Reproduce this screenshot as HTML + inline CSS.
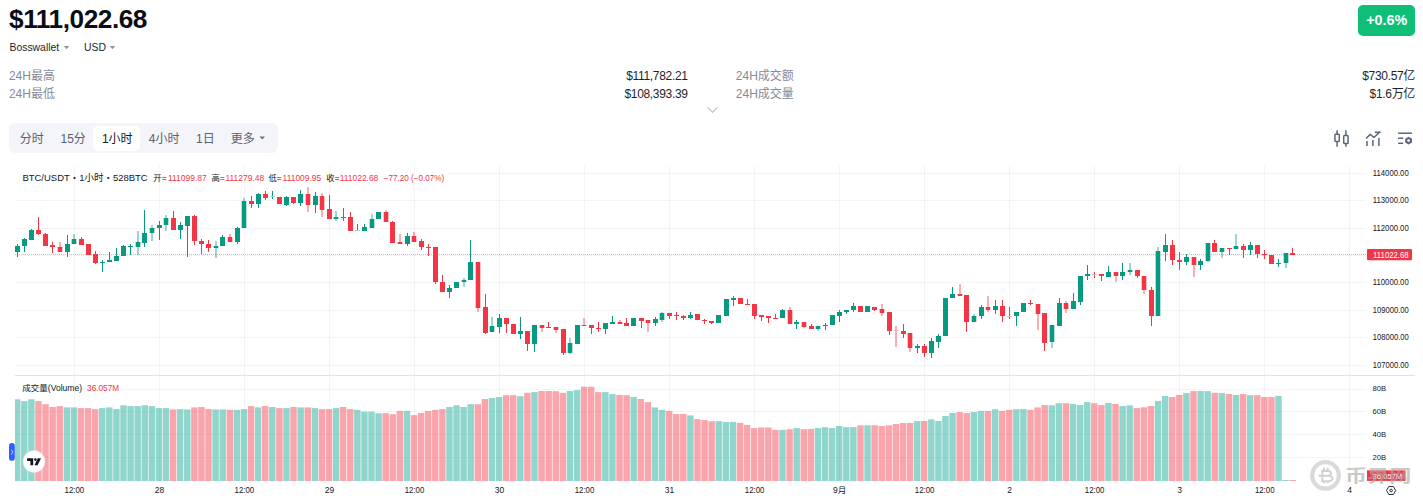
<!DOCTYPE html>
<html><head><meta charset="utf-8"><title>BTC</title>
<style>
html,body{margin:0;padding:0;background:#fff;overflow:hidden;}
body{width:1423px;height:503px;}
svg{display:block;font-family:"Liberation Sans", "Noto Sans CJK SC", sans-serif;}
</style></head><body>
<svg width="1423" height="503" viewBox="0 0 1423 503"><defs><clipPath id="pane"><rect x="15" y="376" width="1351" height="105"/></clipPath></defs>
<text x="9" y="28" font-size="26.2" font-weight="700" fill="#0b0e14" letter-spacing="-0.43">$111,022.68</text>
<text x="9.5" y="50.7" font-size="10.4" fill="#1b1f2a">Bosswallet</text>
<path d="M63.8 46.1 L69.2 46.1 L66.5 49.2 Z" fill="#8f94a3"/>
<text x="84" y="50.7" font-size="10.4" fill="#1b1f2a">USD</text>
<path d="M109.8 46.1 L115.2 46.1 L112.5 49.2 Z" fill="#8f94a3"/>
<rect x="1358" y="5" width="57" height="31" rx="5" fill="#10bf77"/>
<text x="1386.7" y="25.3" font-size="14.3" font-weight="700" fill="#fff" text-anchor="middle">+0.6%</text>
<text x="8.9" y="80" font-size="12" fill="#858a99">24H最高</text>
<text x="8.9" y="98" font-size="12" fill="#858a99">24H最低</text>
<text x="687.6" y="80" font-size="12" fill="#1b1f2a" text-anchor="end" letter-spacing="-0.33">$111,782.21</text>
<text x="687.6" y="98" font-size="12" fill="#1b1f2a" text-anchor="end" letter-spacing="-0.33">$108,393.39</text>
<text x="735.8" y="80" font-size="12" fill="#858a99">24H成交额</text>
<text x="735.8" y="98" font-size="12" fill="#858a99">24H成交量</text>
<text x="1415" y="80" font-size="12" fill="#1b1f2a" text-anchor="end" letter-spacing="-0.33">$730.57亿</text>
<text x="1415" y="98" font-size="12" fill="#1b1f2a" text-anchor="end" letter-spacing="-0.33">$1.6万亿</text>
<path d="M707.6 107.4 L712.5 112.3 L717.4 107.4" fill="none" stroke="#b4b9c7" stroke-width="1.1"/>
<rect x="9" y="123" width="269" height="30" rx="6" fill="#f3f5fa"/>
<rect x="93" y="126" width="47" height="25" rx="5" fill="#ffffff"/>
<text x="19.8" y="142.6" font-size="12" fill="#5b6070">分时</text>
<text x="60.5" y="142.6" font-size="12" fill="#5b6070">15分</text>
<text x="101.9" y="142.6" font-size="12" fill="#141824">1小时</text>
<text x="148.8" y="142.6" font-size="12" fill="#5b6070">4小时</text>
<text x="196" y="142.6" font-size="12" fill="#5b6070">1日</text>
<text x="230.7" y="142.6" font-size="12" fill="#5b6070">更多</text>
<path d="M259.4 136.6 L265 136.6 L262.2 139.6 Z" fill="#6b7080"/>
<g fill="none" stroke="#5b6478" stroke-width="1.5" stroke-linejoin="round"><line x1="1337.1" y1="130.2" x2="1337.1" y2="134.2"/><line x1="1337.1" y1="141.4" x2="1337.1" y2="146.7"/><rect x="1334.9" y="134.2" width="4.4" height="7.2" rx="0.8"/><line x1="1345.9" y1="130.2" x2="1345.9" y2="135.5"/><line x1="1345.9" y1="143.5" x2="1345.9" y2="146.7"/><rect x="1343.7" y="135.5" width="4.4" height="8" rx="0.8"/><polyline points="1366,138.5 1370.3,134.4 1373.9,137.5 1380.1,131.8"/><line x1="1367" y1="141.1" x2="1367" y2="145.9"/><line x1="1372.9" y1="140.1" x2="1372.9" y2="145.9"/><line x1="1378.9" y1="137.9" x2="1378.9" y2="145.9"/><line x1="1398.1" y1="133.2" x2="1411.9" y2="133.2"/><line x1="1398.1" y1="138.2" x2="1403.2" y2="138.2"/><line x1="1398.1" y1="143.3" x2="1403.2" y2="143.3"/></g>
<line x1="1374.8" y1="132.3" x2="1380.4" y2="132.3" stroke="#5b6478" stroke-width="1.6"/>
<polygon points="1408.60,144.50 1405.22,142.55 1405.22,138.65 1408.60,136.70 1411.98,138.65 1411.98,142.55" fill="#5b6478"/><circle cx="1408.6" cy="140.6" r="1.4" fill="#fff"/>
<line x1="74.5" y1="166" x2="74.5" y2="481" stroke="rgba(40,52,52,0.055)" stroke-width="1"/>
<line x1="159.5" y1="166" x2="159.5" y2="481" stroke="rgba(40,52,52,0.055)" stroke-width="1"/>
<line x1="244.5" y1="166" x2="244.5" y2="481" stroke="rgba(40,52,52,0.055)" stroke-width="1"/>
<line x1="329.5" y1="166" x2="329.5" y2="481" stroke="rgba(40,52,52,0.055)" stroke-width="1"/>
<line x1="414.5" y1="166" x2="414.5" y2="481" stroke="rgba(40,52,52,0.055)" stroke-width="1"/>
<line x1="499.5" y1="166" x2="499.5" y2="481" stroke="rgba(40,52,52,0.055)" stroke-width="1"/>
<line x1="584.5" y1="166" x2="584.5" y2="481" stroke="rgba(40,52,52,0.055)" stroke-width="1"/>
<line x1="669.5" y1="166" x2="669.5" y2="481" stroke="rgba(40,52,52,0.055)" stroke-width="1"/>
<line x1="754.5" y1="166" x2="754.5" y2="481" stroke="rgba(40,52,52,0.055)" stroke-width="1"/>
<line x1="839.5" y1="166" x2="839.5" y2="481" stroke="rgba(40,52,52,0.055)" stroke-width="1"/>
<line x1="924.5" y1="166" x2="924.5" y2="481" stroke="rgba(40,52,52,0.055)" stroke-width="1"/>
<line x1="1009.5" y1="166" x2="1009.5" y2="481" stroke="rgba(40,52,52,0.055)" stroke-width="1"/>
<line x1="1094.5" y1="166" x2="1094.5" y2="481" stroke="rgba(40,52,52,0.055)" stroke-width="1"/>
<line x1="1179.5" y1="166" x2="1179.5" y2="481" stroke="rgba(40,52,52,0.055)" stroke-width="1"/>
<line x1="1264.5" y1="166" x2="1264.5" y2="481" stroke="rgba(40,52,52,0.055)" stroke-width="1"/>
<line x1="1349.5" y1="166" x2="1349.5" y2="481" stroke="rgba(40,52,52,0.055)" stroke-width="1"/>
<line x1="15" y1="365.5" x2="1366" y2="365.5" stroke="rgba(40,52,52,0.055)" stroke-width="1"/>
<text x="1372.8" y="368.1" font-size="8.7" fill="#131722" textLength="35.9" lengthAdjust="spacingAndGlyphs">107000.00</text>
<line x1="15" y1="337.5" x2="1366" y2="337.5" stroke="rgba(40,52,52,0.055)" stroke-width="1"/>
<text x="1372.8" y="340.1" font-size="8.7" fill="#131722" textLength="35.9" lengthAdjust="spacingAndGlyphs">108000.00</text>
<line x1="15" y1="310.5" x2="1366" y2="310.5" stroke="rgba(40,52,52,0.055)" stroke-width="1"/>
<text x="1372.8" y="313.1" font-size="8.7" fill="#131722" textLength="35.9" lengthAdjust="spacingAndGlyphs">109000.00</text>
<line x1="15" y1="282.5" x2="1366" y2="282.5" stroke="rgba(40,52,52,0.055)" stroke-width="1"/>
<text x="1372.8" y="285.1" font-size="8.7" fill="#131722" textLength="35.9" lengthAdjust="spacingAndGlyphs">110000.00</text>
<line x1="15" y1="255.5" x2="1366" y2="255.5" stroke="rgba(40,52,52,0.055)" stroke-width="1"/>
<text x="1372.8" y="258.1" font-size="8.7" fill="#131722" textLength="35.9" lengthAdjust="spacingAndGlyphs">111000.00</text>
<line x1="15" y1="228.5" x2="1366" y2="228.5" stroke="rgba(40,52,52,0.055)" stroke-width="1"/>
<text x="1372.8" y="231.1" font-size="8.7" fill="#131722" textLength="35.9" lengthAdjust="spacingAndGlyphs">112000.00</text>
<line x1="15" y1="200.5" x2="1366" y2="200.5" stroke="rgba(40,52,52,0.055)" stroke-width="1"/>
<text x="1372.8" y="203.1" font-size="8.7" fill="#131722" textLength="35.9" lengthAdjust="spacingAndGlyphs">113000.00</text>
<line x1="448" y1="173.5" x2="1366" y2="173.5" stroke="rgba(40,52,52,0.055)" stroke-width="1"/>
<text x="1372.8" y="176.1" font-size="8.7" fill="#131722" textLength="35.9" lengthAdjust="spacingAndGlyphs">114000.00</text>
<line x1="15" y1="375.5" x2="1415" y2="375.5" stroke="#e0e3eb" stroke-width="1"/>
<line x1="15" y1="389.5" x2="1366" y2="389.5" stroke="rgba(40,52,52,0.055)" stroke-width="1"/>
<text x="1372.6" y="390.7" font-size="8.1" fill="#131722" textLength="13.6" lengthAdjust="spacingAndGlyphs">80B</text>
<line x1="15" y1="411.5" x2="1366" y2="411.5" stroke="rgba(40,52,52,0.055)" stroke-width="1"/>
<text x="1372.6" y="413.7" font-size="8.1" fill="#131722" textLength="13.6" lengthAdjust="spacingAndGlyphs">60B</text>
<line x1="15" y1="434.5" x2="1366" y2="434.5" stroke="rgba(40,52,52,0.055)" stroke-width="1"/>
<text x="1372.6" y="436.7" font-size="8.1" fill="#131722" textLength="13.6" lengthAdjust="spacingAndGlyphs">40B</text>
<line x1="15" y1="457.5" x2="1366" y2="457.5" stroke="rgba(40,52,52,0.055)" stroke-width="1"/>
<text x="1372.6" y="459.7" font-size="8.1" fill="#131722" textLength="13.6" lengthAdjust="spacingAndGlyphs">20B</text>
<g clip-path="url(#pane)">
<rect x="13.99" y="399.30" width="6.45" height="81.70" fill="rgba(33,173,153,0.5)"/>
<rect x="21.07" y="401.10" width="6.45" height="79.90" fill="rgba(33,173,153,0.5)"/>
<rect x="28.16" y="399.30" width="6.45" height="81.70" fill="rgba(33,173,153,0.5)"/>
<rect x="35.24" y="401.10" width="6.45" height="79.90" fill="rgba(245,75,89,0.5)"/>
<rect x="42.33" y="404.20" width="6.45" height="76.80" fill="rgba(245,75,89,0.5)"/>
<rect x="49.42" y="407.00" width="6.45" height="74.00" fill="rgba(245,75,89,0.5)"/>
<rect x="56.50" y="406.10" width="6.45" height="74.90" fill="rgba(245,75,89,0.5)"/>
<rect x="63.59" y="407.40" width="6.45" height="73.60" fill="rgba(33,173,153,0.5)"/>
<rect x="70.67" y="407.40" width="6.45" height="73.60" fill="rgba(33,173,153,0.5)"/>
<rect x="77.76" y="408.10" width="6.45" height="72.90" fill="rgba(245,75,89,0.5)"/>
<rect x="84.85" y="408.10" width="6.45" height="72.90" fill="rgba(245,75,89,0.5)"/>
<rect x="91.93" y="409.10" width="6.45" height="71.90" fill="rgba(245,75,89,0.5)"/>
<rect x="99.02" y="408.10" width="6.45" height="72.90" fill="rgba(33,173,153,0.5)"/>
<rect x="106.10" y="407.40" width="6.45" height="73.60" fill="rgba(33,173,153,0.5)"/>
<rect x="113.19" y="409.10" width="6.45" height="71.90" fill="rgba(33,173,153,0.5)"/>
<rect x="120.28" y="405.30" width="6.45" height="75.70" fill="rgba(33,173,153,0.5)"/>
<rect x="127.36" y="406.10" width="6.45" height="74.90" fill="rgba(33,173,153,0.5)"/>
<rect x="134.45" y="406.10" width="6.45" height="74.90" fill="rgba(33,173,153,0.5)"/>
<rect x="141.53" y="405.30" width="6.45" height="75.70" fill="rgba(33,173,153,0.5)"/>
<rect x="148.62" y="406.10" width="6.45" height="74.90" fill="rgba(33,173,153,0.5)"/>
<rect x="155.71" y="408.10" width="6.45" height="72.90" fill="rgba(33,173,153,0.5)"/>
<rect x="162.79" y="408.10" width="6.45" height="72.90" fill="rgba(33,173,153,0.5)"/>
<rect x="169.88" y="409.40" width="6.45" height="71.60" fill="rgba(245,75,89,0.5)"/>
<rect x="176.96" y="409.10" width="6.45" height="71.90" fill="rgba(33,173,153,0.5)"/>
<rect x="184.05" y="409.40" width="6.45" height="71.60" fill="rgba(33,173,153,0.5)"/>
<rect x="191.14" y="407.40" width="6.45" height="73.60" fill="rgba(245,75,89,0.5)"/>
<rect x="198.22" y="407.00" width="6.45" height="74.00" fill="rgba(245,75,89,0.5)"/>
<rect x="205.31" y="409.10" width="6.45" height="71.90" fill="rgba(245,75,89,0.5)"/>
<rect x="212.39" y="409.40" width="6.45" height="71.60" fill="rgba(33,173,153,0.5)"/>
<rect x="219.48" y="409.40" width="6.45" height="71.60" fill="rgba(33,173,153,0.5)"/>
<rect x="226.57" y="409.90" width="6.45" height="71.10" fill="rgba(245,75,89,0.5)"/>
<rect x="233.65" y="409.90" width="6.45" height="71.10" fill="rgba(33,173,153,0.5)"/>
<rect x="240.74" y="409.10" width="6.45" height="71.90" fill="rgba(33,173,153,0.5)"/>
<rect x="247.82" y="406.10" width="6.45" height="74.90" fill="rgba(245,75,89,0.5)"/>
<rect x="254.91" y="407.40" width="6.45" height="73.60" fill="rgba(33,173,153,0.5)"/>
<rect x="262.00" y="406.10" width="6.45" height="74.90" fill="rgba(245,75,89,0.5)"/>
<rect x="269.08" y="407.00" width="6.45" height="74.00" fill="rgba(33,173,153,0.5)"/>
<rect x="276.17" y="408.10" width="6.45" height="72.90" fill="rgba(245,75,89,0.5)"/>
<rect x="283.25" y="408.10" width="6.45" height="72.90" fill="rgba(33,173,153,0.5)"/>
<rect x="290.34" y="407.00" width="6.45" height="74.00" fill="rgba(245,75,89,0.5)"/>
<rect x="297.43" y="407.40" width="6.45" height="73.60" fill="rgba(33,173,153,0.5)"/>
<rect x="304.51" y="407.40" width="6.45" height="73.60" fill="rgba(245,75,89,0.5)"/>
<rect x="311.60" y="408.10" width="6.45" height="72.90" fill="rgba(33,173,153,0.5)"/>
<rect x="318.68" y="409.10" width="6.45" height="71.90" fill="rgba(245,75,89,0.5)"/>
<rect x="325.77" y="409.10" width="6.45" height="71.90" fill="rgba(245,75,89,0.5)"/>
<rect x="332.86" y="408.10" width="6.45" height="72.90" fill="rgba(33,173,153,0.5)"/>
<rect x="339.94" y="407.00" width="6.45" height="74.00" fill="rgba(245,75,89,0.5)"/>
<rect x="347.03" y="409.10" width="6.45" height="71.90" fill="rgba(245,75,89,0.5)"/>
<rect x="354.11" y="409.90" width="6.45" height="71.10" fill="rgba(33,173,153,0.5)"/>
<rect x="361.20" y="411.60" width="6.45" height="69.40" fill="rgba(33,173,153,0.5)"/>
<rect x="368.29" y="411.60" width="6.45" height="69.40" fill="rgba(33,173,153,0.5)"/>
<rect x="375.37" y="413.20" width="6.45" height="67.80" fill="rgba(33,173,153,0.5)"/>
<rect x="382.46" y="413.20" width="6.45" height="67.80" fill="rgba(245,75,89,0.5)"/>
<rect x="389.54" y="414.20" width="6.45" height="66.80" fill="rgba(245,75,89,0.5)"/>
<rect x="396.63" y="410.90" width="6.45" height="70.10" fill="rgba(245,75,89,0.5)"/>
<rect x="403.72" y="410.90" width="6.45" height="70.10" fill="rgba(33,173,153,0.5)"/>
<rect x="410.80" y="415.10" width="6.45" height="65.90" fill="rgba(245,75,89,0.5)"/>
<rect x="417.89" y="413.00" width="6.45" height="68.00" fill="rgba(245,75,89,0.5)"/>
<rect x="424.97" y="410.90" width="6.45" height="70.10" fill="rgba(245,75,89,0.5)"/>
<rect x="432.06" y="409.90" width="6.45" height="71.10" fill="rgba(245,75,89,0.5)"/>
<rect x="439.15" y="409.10" width="6.45" height="71.90" fill="rgba(245,75,89,0.5)"/>
<rect x="446.23" y="407.00" width="6.45" height="74.00" fill="rgba(33,173,153,0.5)"/>
<rect x="453.32" y="405.30" width="6.45" height="75.70" fill="rgba(33,173,153,0.5)"/>
<rect x="460.40" y="407.00" width="6.45" height="74.00" fill="rgba(33,173,153,0.5)"/>
<rect x="467.49" y="404.20" width="6.45" height="76.80" fill="rgba(33,173,153,0.5)"/>
<rect x="474.58" y="404.20" width="6.45" height="76.80" fill="rgba(245,75,89,0.5)"/>
<rect x="481.66" y="399.00" width="6.45" height="82.00" fill="rgba(245,75,89,0.5)"/>
<rect x="488.75" y="398.00" width="6.45" height="83.00" fill="rgba(33,173,153,0.5)"/>
<rect x="495.83" y="397.10" width="6.45" height="83.90" fill="rgba(33,173,153,0.5)"/>
<rect x="502.92" y="395.20" width="6.45" height="85.80" fill="rgba(245,75,89,0.5)"/>
<rect x="510.01" y="395.20" width="6.45" height="85.80" fill="rgba(245,75,89,0.5)"/>
<rect x="517.09" y="396.20" width="6.45" height="84.80" fill="rgba(33,173,153,0.5)"/>
<rect x="524.18" y="392.90" width="6.45" height="88.10" fill="rgba(245,75,89,0.5)"/>
<rect x="531.26" y="392.10" width="6.45" height="88.90" fill="rgba(33,173,153,0.5)"/>
<rect x="538.35" y="391.00" width="6.45" height="90.00" fill="rgba(245,75,89,0.5)"/>
<rect x="545.44" y="391.00" width="6.45" height="90.00" fill="rgba(245,75,89,0.5)"/>
<rect x="552.52" y="391.20" width="6.45" height="89.80" fill="rgba(245,75,89,0.5)"/>
<rect x="559.61" y="392.90" width="6.45" height="88.10" fill="rgba(245,75,89,0.5)"/>
<rect x="566.69" y="391.00" width="6.45" height="90.00" fill="rgba(33,173,153,0.5)"/>
<rect x="573.78" y="390.10" width="6.45" height="90.90" fill="rgba(33,173,153,0.5)"/>
<rect x="580.87" y="386.70" width="6.45" height="94.30" fill="rgba(245,75,89,0.5)"/>
<rect x="587.95" y="386.70" width="6.45" height="94.30" fill="rgba(245,75,89,0.5)"/>
<rect x="595.04" y="392.10" width="6.45" height="88.90" fill="rgba(245,75,89,0.5)"/>
<rect x="602.12" y="392.10" width="6.45" height="88.90" fill="rgba(33,173,153,0.5)"/>
<rect x="609.21" y="394.10" width="6.45" height="86.90" fill="rgba(33,173,153,0.5)"/>
<rect x="616.30" y="394.90" width="6.45" height="86.10" fill="rgba(245,75,89,0.5)"/>
<rect x="623.38" y="395.20" width="6.45" height="85.80" fill="rgba(245,75,89,0.5)"/>
<rect x="630.47" y="396.90" width="6.45" height="84.10" fill="rgba(33,173,153,0.5)"/>
<rect x="637.55" y="399.00" width="6.45" height="82.00" fill="rgba(245,75,89,0.5)"/>
<rect x="644.64" y="402.10" width="6.45" height="78.90" fill="rgba(245,75,89,0.5)"/>
<rect x="651.73" y="407.40" width="6.45" height="73.60" fill="rgba(33,173,153,0.5)"/>
<rect x="658.81" y="409.90" width="6.45" height="71.10" fill="rgba(33,173,153,0.5)"/>
<rect x="665.90" y="410.90" width="6.45" height="70.10" fill="rgba(245,75,89,0.5)"/>
<rect x="672.98" y="414.00" width="6.45" height="67.00" fill="rgba(245,75,89,0.5)"/>
<rect x="680.07" y="414.00" width="6.45" height="67.00" fill="rgba(245,75,89,0.5)"/>
<rect x="687.16" y="415.40" width="6.45" height="65.60" fill="rgba(33,173,153,0.5)"/>
<rect x="694.24" y="419.10" width="6.45" height="61.90" fill="rgba(245,75,89,0.5)"/>
<rect x="701.33" y="420.10" width="6.45" height="60.90" fill="rgba(245,75,89,0.5)"/>
<rect x="708.41" y="421.20" width="6.45" height="59.80" fill="rgba(245,75,89,0.5)"/>
<rect x="715.50" y="421.20" width="6.45" height="59.80" fill="rgba(33,173,153,0.5)"/>
<rect x="722.59" y="421.90" width="6.45" height="59.10" fill="rgba(33,173,153,0.5)"/>
<rect x="729.67" y="421.90" width="6.45" height="59.10" fill="rgba(33,173,153,0.5)"/>
<rect x="736.76" y="422.90" width="6.45" height="58.10" fill="rgba(245,75,89,0.5)"/>
<rect x="743.84" y="425.00" width="6.45" height="56.00" fill="rgba(245,75,89,0.5)"/>
<rect x="750.93" y="428.10" width="6.45" height="52.90" fill="rgba(245,75,89,0.5)"/>
<rect x="758.02" y="427.40" width="6.45" height="53.60" fill="rgba(245,75,89,0.5)"/>
<rect x="765.10" y="427.40" width="6.45" height="53.60" fill="rgba(245,75,89,0.5)"/>
<rect x="772.19" y="429.90" width="6.45" height="51.10" fill="rgba(245,75,89,0.5)"/>
<rect x="779.27" y="429.90" width="6.45" height="51.10" fill="rgba(33,173,153,0.5)"/>
<rect x="786.36" y="429.20" width="6.45" height="51.80" fill="rgba(245,75,89,0.5)"/>
<rect x="793.45" y="428.10" width="6.45" height="52.90" fill="rgba(33,173,153,0.5)"/>
<rect x="800.53" y="429.20" width="6.45" height="51.80" fill="rgba(245,75,89,0.5)"/>
<rect x="807.62" y="428.90" width="6.45" height="52.10" fill="rgba(245,75,89,0.5)"/>
<rect x="814.70" y="428.10" width="6.45" height="52.90" fill="rgba(33,173,153,0.5)"/>
<rect x="821.79" y="427.20" width="6.45" height="53.80" fill="rgba(33,173,153,0.5)"/>
<rect x="828.88" y="428.10" width="6.45" height="52.90" fill="rgba(33,173,153,0.5)"/>
<rect x="835.96" y="426.00" width="6.45" height="55.00" fill="rgba(33,173,153,0.5)"/>
<rect x="843.05" y="427.20" width="6.45" height="53.80" fill="rgba(33,173,153,0.5)"/>
<rect x="850.13" y="427.10" width="6.45" height="53.90" fill="rgba(33,173,153,0.5)"/>
<rect x="857.22" y="425.30" width="6.45" height="55.70" fill="rgba(245,75,89,0.5)"/>
<rect x="864.31" y="425.30" width="6.45" height="55.70" fill="rgba(33,173,153,0.5)"/>
<rect x="871.39" y="425.30" width="6.45" height="55.70" fill="rgba(245,75,89,0.5)"/>
<rect x="878.48" y="426.00" width="6.45" height="55.00" fill="rgba(245,75,89,0.5)"/>
<rect x="885.56" y="425.30" width="6.45" height="55.70" fill="rgba(245,75,89,0.5)"/>
<rect x="892.65" y="424.00" width="6.45" height="57.00" fill="rgba(245,75,89,0.5)"/>
<rect x="899.74" y="423.00" width="6.45" height="58.00" fill="rgba(245,75,89,0.5)"/>
<rect x="906.82" y="423.00" width="6.45" height="58.00" fill="rgba(245,75,89,0.5)"/>
<rect x="913.91" y="421.20" width="6.45" height="59.80" fill="rgba(33,173,153,0.5)"/>
<rect x="920.99" y="421.00" width="6.45" height="60.00" fill="rgba(245,75,89,0.5)"/>
<rect x="928.08" y="419.40" width="6.45" height="61.60" fill="rgba(33,173,153,0.5)"/>
<rect x="935.17" y="421.00" width="6.45" height="60.00" fill="rgba(33,173,153,0.5)"/>
<rect x="942.25" y="416.00" width="6.45" height="65.00" fill="rgba(33,173,153,0.5)"/>
<rect x="949.34" y="413.00" width="6.45" height="68.00" fill="rgba(33,173,153,0.5)"/>
<rect x="956.42" y="412.00" width="6.45" height="69.00" fill="rgba(245,75,89,0.5)"/>
<rect x="963.51" y="413.00" width="6.45" height="68.00" fill="rgba(245,75,89,0.5)"/>
<rect x="970.60" y="412.00" width="6.45" height="69.00" fill="rgba(33,173,153,0.5)"/>
<rect x="977.68" y="410.90" width="6.45" height="70.10" fill="rgba(33,173,153,0.5)"/>
<rect x="984.77" y="410.90" width="6.45" height="70.10" fill="rgba(245,75,89,0.5)"/>
<rect x="991.85" y="409.20" width="6.45" height="71.80" fill="rgba(33,173,153,0.5)"/>
<rect x="998.94" y="410.90" width="6.45" height="70.10" fill="rgba(245,75,89,0.5)"/>
<rect x="1006.03" y="409.90" width="6.45" height="71.10" fill="rgba(245,75,89,0.5)"/>
<rect x="1013.11" y="409.20" width="6.45" height="71.80" fill="rgba(33,173,153,0.5)"/>
<rect x="1020.20" y="409.00" width="6.45" height="72.00" fill="rgba(33,173,153,0.5)"/>
<rect x="1027.28" y="409.90" width="6.45" height="71.10" fill="rgba(245,75,89,0.5)"/>
<rect x="1034.37" y="407.40" width="6.45" height="73.60" fill="rgba(245,75,89,0.5)"/>
<rect x="1041.46" y="405.00" width="6.45" height="76.00" fill="rgba(245,75,89,0.5)"/>
<rect x="1048.54" y="405.30" width="6.45" height="75.70" fill="rgba(33,173,153,0.5)"/>
<rect x="1055.63" y="403.20" width="6.45" height="77.80" fill="rgba(33,173,153,0.5)"/>
<rect x="1062.71" y="403.20" width="6.45" height="77.80" fill="rgba(245,75,89,0.5)"/>
<rect x="1069.80" y="404.00" width="6.45" height="77.00" fill="rgba(33,173,153,0.5)"/>
<rect x="1076.89" y="405.00" width="6.45" height="76.00" fill="rgba(33,173,153,0.5)"/>
<rect x="1083.97" y="402.10" width="6.45" height="78.90" fill="rgba(33,173,153,0.5)"/>
<rect x="1091.06" y="403.20" width="6.45" height="77.80" fill="rgba(245,75,89,0.5)"/>
<rect x="1098.14" y="405.00" width="6.45" height="76.00" fill="rgba(245,75,89,0.5)"/>
<rect x="1105.23" y="402.90" width="6.45" height="78.10" fill="rgba(33,173,153,0.5)"/>
<rect x="1112.32" y="404.00" width="6.45" height="77.00" fill="rgba(245,75,89,0.5)"/>
<rect x="1119.40" y="406.00" width="6.45" height="75.00" fill="rgba(33,173,153,0.5)"/>
<rect x="1126.49" y="405.30" width="6.45" height="75.70" fill="rgba(33,173,153,0.5)"/>
<rect x="1133.57" y="408.10" width="6.45" height="72.90" fill="rgba(245,75,89,0.5)"/>
<rect x="1140.66" y="407.30" width="6.45" height="73.70" fill="rgba(245,75,89,0.5)"/>
<rect x="1147.75" y="406.00" width="6.45" height="75.00" fill="rgba(245,75,89,0.5)"/>
<rect x="1154.83" y="400.90" width="6.45" height="80.10" fill="rgba(33,173,153,0.5)"/>
<rect x="1161.92" y="396.00" width="6.45" height="85.00" fill="rgba(33,173,153,0.5)"/>
<rect x="1169.00" y="397.00" width="6.45" height="84.00" fill="rgba(245,75,89,0.5)"/>
<rect x="1176.09" y="394.90" width="6.45" height="86.10" fill="rgba(245,75,89,0.5)"/>
<rect x="1183.18" y="393.10" width="6.45" height="87.90" fill="rgba(33,173,153,0.5)"/>
<rect x="1190.26" y="391.10" width="6.45" height="89.90" fill="rgba(245,75,89,0.5)"/>
<rect x="1197.35" y="391.00" width="6.45" height="90.00" fill="rgba(33,173,153,0.5)"/>
<rect x="1204.43" y="391.10" width="6.45" height="89.90" fill="rgba(33,173,153,0.5)"/>
<rect x="1211.52" y="392.80" width="6.45" height="88.20" fill="rgba(245,75,89,0.5)"/>
<rect x="1218.61" y="393.10" width="6.45" height="87.90" fill="rgba(33,173,153,0.5)"/>
<rect x="1225.69" y="394.00" width="6.45" height="87.00" fill="rgba(245,75,89,0.5)"/>
<rect x="1232.78" y="394.90" width="6.45" height="86.10" fill="rgba(33,173,153,0.5)"/>
<rect x="1239.86" y="394.00" width="6.45" height="87.00" fill="rgba(245,75,89,0.5)"/>
<rect x="1246.95" y="395.20" width="6.45" height="85.80" fill="rgba(33,173,153,0.5)"/>
<rect x="1254.04" y="395.20" width="6.45" height="85.80" fill="rgba(245,75,89,0.5)"/>
<rect x="1261.12" y="397.00" width="6.45" height="84.00" fill="rgba(245,75,89,0.5)"/>
<rect x="1268.21" y="397.10" width="6.45" height="83.90" fill="rgba(245,75,89,0.5)"/>
<rect x="1275.29" y="395.90" width="6.45" height="85.10" fill="rgba(33,173,153,0.5)"/>
<rect x="1282.38" y="480.00" width="6.45" height="1.00" fill="rgba(33,173,153,0.5)"/>
<rect x="1289.47" y="480.00" width="6.45" height="1.00" fill="rgba(245,75,89,0.5)"/>
</g>
<line x1="15" y1="254.5" x2="1366" y2="254.5" stroke="#f23645" stroke-width="1" stroke-dasharray="1 1" opacity="0.42"/>
<g shape-rendering="crispEdges"><rect x="17" y="244" width="1" height="2" fill="#089981"/><rect x="17" y="252" width="1" height="5" fill="#089981"/><rect x="15" y="246" width="5" height="6" fill="#089981"/><rect x="24" y="238" width="1" height="1" fill="#089981"/><rect x="24" y="246" width="1" height="6" fill="#089981"/><rect x="22" y="239" width="5" height="7" fill="#089981"/><rect x="31" y="229" width="1" height="1" fill="#089981"/><rect x="29" y="230" width="5" height="10" fill="#089981"/><rect x="38" y="217" width="1" height="13" fill="#f23645"/><rect x="38" y="234" width="1" height="1" fill="#f23645"/><rect x="36" y="230" width="5" height="4" fill="#f23645"/><rect x="45" y="233" width="1" height="1" fill="#f23645"/><rect x="43" y="234" width="5" height="12" fill="#f23645"/><rect x="52" y="242" width="1" height="3" fill="#f23645"/><rect x="52" y="247" width="1" height="6" fill="#f23645"/><rect x="50" y="245" width="5" height="2" fill="#f23645"/><rect x="59" y="242" width="2" height="5" fill="#f23645" fill-opacity="0.4"/><rect x="67" y="235" width="1" height="9" fill="#089981"/><rect x="67" y="252" width="1" height="5" fill="#089981"/><rect x="65" y="244" width="5" height="8" fill="#089981"/><rect x="73" y="234" width="2" height="5" fill="#089981" fill-opacity="0.4"/><rect x="81" y="237" width="1" height="2" fill="#f23645"/><rect x="79" y="239" width="5" height="6" fill="#f23645"/><rect x="86" y="244" width="5" height="11" fill="#f23645"/><rect x="95" y="251" width="1" height="3" fill="#f23645"/><rect x="95" y="263" width="1" height="1" fill="#f23645"/><rect x="93" y="254" width="5" height="9" fill="#f23645"/><rect x="102" y="260" width="1" height="2" fill="#089981"/><rect x="102" y="263" width="1" height="9" fill="#089981"/><rect x="100" y="262" width="5" height="1" fill="#089981"/><rect x="109" y="252" width="1" height="8" fill="#089981"/><rect x="107" y="260" width="5" height="2" fill="#089981"/><rect x="116" y="248" width="1" height="8" fill="#089981"/><rect x="114" y="256" width="5" height="5" fill="#089981"/><rect x="123" y="245" width="1" height="1" fill="#089981"/><rect x="121" y="246" width="5" height="10" fill="#089981"/><rect x="130" y="244" width="1" height="2" fill="#089981"/><rect x="130" y="247" width="1" height="8" fill="#089981"/><rect x="128" y="246" width="5" height="1" fill="#089981"/><rect x="137" y="231" width="2" height="11" fill="#089981" fill-opacity="0.4"/><rect x="137" y="247" width="2" height="8" fill="#089981" fill-opacity="0.4"/><rect x="144" y="210" width="1" height="23" fill="#089981"/><rect x="144" y="243" width="1" height="4" fill="#089981"/><rect x="142" y="233" width="5" height="10" fill="#089981"/><rect x="151" y="225" width="2" height="3" fill="#089981" fill-opacity="0.4"/><rect x="151" y="233" width="2" height="8" fill="#089981" fill-opacity="0.4"/><rect x="159" y="221" width="1" height="4" fill="#089981"/><rect x="159" y="228" width="1" height="12" fill="#089981"/><rect x="157" y="225" width="5" height="3" fill="#089981"/><rect x="165" y="215" width="2" height="3" fill="#089981" fill-opacity="0.4"/><rect x="165" y="225" width="2" height="6" fill="#089981" fill-opacity="0.4"/><rect x="173" y="211" width="1" height="7" fill="#f23645"/><rect x="171" y="218" width="5" height="12" fill="#f23645"/><rect x="180" y="222" width="1" height="3" fill="#089981"/><rect x="180" y="230" width="1" height="9" fill="#089981"/><rect x="178" y="225" width="5" height="5" fill="#089981"/><rect x="187" y="226" width="1" height="31" fill="#089981"/><rect x="185" y="216" width="5" height="10" fill="#089981"/><rect x="194" y="215" width="1" height="1" fill="#f23645"/><rect x="194" y="241" width="1" height="4" fill="#f23645"/><rect x="192" y="216" width="5" height="25" fill="#f23645"/><rect x="201" y="239" width="1" height="2" fill="#f23645"/><rect x="201" y="244" width="1" height="10" fill="#f23645"/><rect x="199" y="241" width="5" height="3" fill="#f23645"/><rect x="208" y="240" width="1" height="4" fill="#f23645"/><rect x="208" y="248" width="1" height="4" fill="#f23645"/><rect x="206" y="244" width="5" height="4" fill="#f23645"/><rect x="215" y="241" width="2" height="5" fill="#089981" fill-opacity="0.4"/><rect x="215" y="248" width="2" height="10" fill="#089981" fill-opacity="0.4"/><rect x="222" y="235" width="1" height="2" fill="#089981"/><rect x="220" y="237" width="5" height="9" fill="#089981"/><rect x="229" y="234" width="2" height="3" fill="#f23645" fill-opacity="0.4"/><rect x="237" y="227" width="1" height="1" fill="#089981"/><rect x="237" y="242" width="1" height="2" fill="#089981"/><rect x="235" y="228" width="5" height="14" fill="#089981"/><rect x="243" y="198" width="2" height="3" fill="#089981" fill-opacity="0.4"/><rect x="251" y="196" width="1" height="5" fill="#f23645"/><rect x="251" y="204" width="1" height="4" fill="#f23645"/><rect x="249" y="201" width="5" height="3" fill="#f23645"/><rect x="258" y="193" width="1" height="1" fill="#089981"/><rect x="258" y="204" width="1" height="4" fill="#089981"/><rect x="256" y="194" width="5" height="10" fill="#089981"/><rect x="265" y="191" width="1" height="3" fill="#f23645"/><rect x="265" y="198" width="1" height="2" fill="#f23645"/><rect x="263" y="194" width="5" height="4" fill="#f23645"/><rect x="272" y="191" width="1" height="5" fill="#089981"/><rect x="272" y="197" width="1" height="2" fill="#089981"/><rect x="270" y="196" width="5" height="1" fill="#9fd6cc"/><rect x="277" y="197" width="5" height="7" fill="#f23645"/><rect x="286" y="196" width="1" height="1" fill="#089981"/><rect x="286" y="205" width="1" height="1" fill="#089981"/><rect x="284" y="197" width="5" height="8" fill="#089981"/><rect x="293" y="203" width="1" height="1" fill="#f23645"/><rect x="291" y="197" width="5" height="6" fill="#f23645"/><rect x="300" y="190" width="1" height="4" fill="#089981"/><rect x="300" y="203" width="1" height="3" fill="#089981"/><rect x="298" y="194" width="5" height="9" fill="#089981"/><rect x="307" y="187" width="2" height="7" fill="#f23645" fill-opacity="0.4"/><rect x="307" y="205" width="2" height="7" fill="#f23645" fill-opacity="0.4"/><rect x="315" y="192" width="1" height="4" fill="#089981"/><rect x="315" y="205" width="1" height="8" fill="#089981"/><rect x="313" y="196" width="5" height="9" fill="#089981"/><rect x="321" y="193" width="2" height="3" fill="#f23645" fill-opacity="0.4"/><rect x="321" y="210" width="2" height="7" fill="#f23645" fill-opacity="0.4"/><rect x="329" y="195" width="1" height="14" fill="#f23645"/><rect x="327" y="209" width="5" height="10" fill="#f23645"/><rect x="335" y="211" width="2" height="6" fill="#089981" fill-opacity="0.4"/><rect x="335" y="219" width="2" height="2" fill="#089981" fill-opacity="0.4"/><rect x="343" y="208" width="1" height="9" fill="#f23645"/><rect x="343" y="218" width="1" height="3" fill="#f23645"/><rect x="341" y="217" width="5" height="1" fill="#f23645"/><rect x="350" y="212" width="1" height="5" fill="#f23645"/><rect x="348" y="217" width="5" height="14" fill="#f23645"/><rect x="357" y="224" width="1" height="6" fill="#089981"/><rect x="355" y="230" width="5" height="1" fill="#9fd6cc"/><rect x="364" y="224" width="1" height="3" fill="#089981"/><rect x="362" y="227" width="5" height="4" fill="#089981"/><rect x="371" y="214" width="2" height="5" fill="#089981" fill-opacity="0.4"/><rect x="376" y="212" width="5" height="7" fill="#089981"/><rect x="385" y="210" width="2" height="2" fill="#f23645" fill-opacity="0.4"/><rect x="392" y="221" width="1" height="1" fill="#f23645"/><rect x="390" y="222" width="5" height="21" fill="#f23645"/><rect x="399" y="234" width="2" height="8" fill="#f23645" fill-opacity="0.4"/><rect x="407" y="233" width="1" height="3" fill="#089981"/><rect x="407" y="244" width="1" height="2" fill="#089981"/><rect x="405" y="236" width="5" height="8" fill="#089981"/><rect x="413" y="232" width="2" height="4" fill="#f23645" fill-opacity="0.4"/><rect x="421" y="239" width="1" height="2" fill="#f23645"/><rect x="421" y="247" width="1" height="3" fill="#f23645"/><rect x="419" y="241" width="5" height="6" fill="#f23645"/><rect x="428" y="244" width="1" height="3" fill="#f23645"/><rect x="428" y="248" width="1" height="8" fill="#f23645"/><rect x="426" y="247" width="5" height="1" fill="#f23645"/><rect x="435" y="282" width="1" height="2" fill="#f23645"/><rect x="433" y="247" width="5" height="35" fill="#f23645"/><rect x="442" y="275" width="1" height="7" fill="#f23645"/><rect x="440" y="282" width="5" height="10" fill="#f23645"/><rect x="449" y="285" width="1" height="3" fill="#089981"/><rect x="449" y="292" width="1" height="6" fill="#089981"/><rect x="447" y="288" width="5" height="4" fill="#089981"/><rect x="454" y="282" width="5" height="6" fill="#089981"/><rect x="463" y="278" width="2" height="2" fill="#089981" fill-opacity="0.4"/><rect x="463" y="282" width="2" height="5" fill="#089981" fill-opacity="0.4"/><rect x="470" y="240" width="1" height="22" fill="#089981"/><rect x="468" y="262" width="5" height="18" fill="#089981"/><rect x="477" y="308" width="2" height="4" fill="#f23645" fill-opacity="0.4"/><rect x="485" y="294" width="1" height="13" fill="#f23645"/><rect x="485" y="333" width="1" height="1" fill="#f23645"/><rect x="483" y="307" width="5" height="26" fill="#f23645"/><rect x="491" y="317" width="2" height="9" fill="#089981" fill-opacity="0.4"/><rect x="499" y="314" width="1" height="4" fill="#089981"/><rect x="499" y="327" width="1" height="6" fill="#089981"/><rect x="497" y="318" width="5" height="9" fill="#089981"/><rect x="506" y="324" width="1" height="9" fill="#f23645"/><rect x="504" y="318" width="5" height="6" fill="#f23645"/><rect x="511" y="324" width="5" height="10" fill="#f23645"/><rect x="520" y="317" width="1" height="14" fill="#089981"/><rect x="520" y="334" width="1" height="5" fill="#089981"/><rect x="518" y="331" width="5" height="3" fill="#089981"/><rect x="527" y="344" width="1" height="7" fill="#f23645"/><rect x="525" y="331" width="5" height="13" fill="#f23645"/><rect x="534" y="344" width="1" height="8" fill="#089981"/><rect x="532" y="325" width="5" height="19" fill="#089981"/><rect x="541" y="328" width="2" height="4" fill="#f23645" fill-opacity="0.4"/><rect x="548" y="322" width="1" height="5" fill="#f23645"/><rect x="546" y="327" width="5" height="1" fill="#f23645"/><rect x="555" y="330" width="2" height="3" fill="#f23645" fill-opacity="0.4"/><rect x="563" y="353" width="1" height="2" fill="#f23645"/><rect x="561" y="329" width="5" height="24" fill="#f23645"/><rect x="569" y="338" width="2" height="5" fill="#089981" fill-opacity="0.4"/><rect x="569" y="353" width="2" height="1" fill="#089981" fill-opacity="0.4"/><rect x="575" y="325" width="5" height="19" fill="#089981"/><rect x="583" y="318" width="2" height="7" fill="#f23645" fill-opacity="0.4"/><rect x="591" y="328" width="1" height="6" fill="#f23645"/><rect x="589" y="325" width="5" height="3" fill="#f23645"/><rect x="598" y="322" width="1" height="6" fill="#f23645"/><rect x="598" y="329" width="1" height="3" fill="#f23645"/><rect x="596" y="328" width="5" height="1" fill="#f23645"/><rect x="605" y="329" width="1" height="5" fill="#089981"/><rect x="603" y="323" width="5" height="6" fill="#089981"/><rect x="612" y="316" width="1" height="6" fill="#089981"/><rect x="610" y="322" width="5" height="2" fill="#089981"/><rect x="619" y="320" width="2" height="2" fill="#f23645" fill-opacity="0.4"/><rect x="626" y="318" width="1" height="5" fill="#f23645"/><rect x="624" y="323" width="5" height="3" fill="#f23645"/><rect x="631" y="318" width="5" height="8" fill="#089981"/><rect x="641" y="321" width="1" height="7" fill="#f23645"/><rect x="639" y="318" width="5" height="3" fill="#f23645"/><rect x="647" y="323" width="2" height="9" fill="#f23645" fill-opacity="0.4"/><rect x="655" y="317" width="1" height="2" fill="#089981"/><rect x="655" y="323" width="1" height="3" fill="#089981"/><rect x="653" y="319" width="5" height="4" fill="#089981"/><rect x="661" y="312" width="2" height="1" fill="#089981" fill-opacity="0.4"/><rect x="661" y="320" width="2" height="2" fill="#089981" fill-opacity="0.4"/><rect x="669" y="316" width="1" height="3" fill="#f23645"/><rect x="667" y="313" width="5" height="3" fill="#f23645"/><rect x="676" y="312" width="1" height="3" fill="#f23645"/><rect x="676" y="316" width="1" height="4" fill="#f23645"/><rect x="674" y="315" width="5" height="1" fill="#f23645"/><rect x="683" y="315" width="1" height="1" fill="#f23645"/><rect x="683" y="318" width="1" height="2" fill="#f23645"/><rect x="681" y="316" width="5" height="2" fill="#f23645"/><rect x="690" y="312" width="1" height="3" fill="#089981"/><rect x="690" y="318" width="1" height="1" fill="#089981"/><rect x="688" y="315" width="5" height="3" fill="#089981"/><rect x="695" y="314" width="5" height="6" fill="#f23645"/><rect x="704" y="319" width="1" height="1" fill="#f23645"/><rect x="704" y="321" width="1" height="3" fill="#f23645"/><rect x="702" y="320" width="5" height="1" fill="#f23645"/><rect x="711" y="323" width="1" height="1" fill="#f23645"/><rect x="709" y="321" width="5" height="2" fill="#f23645"/><rect x="716" y="315" width="5" height="8" fill="#089981"/><rect x="724" y="299" width="5" height="17" fill="#089981"/><rect x="733" y="296" width="1" height="2" fill="#089981"/><rect x="733" y="300" width="1" height="6" fill="#089981"/><rect x="731" y="298" width="5" height="2" fill="#089981"/><rect x="738" y="298" width="5" height="6" fill="#f23645"/><rect x="747" y="299" width="1" height="5" fill="#f23645"/><rect x="745" y="304" width="5" height="1" fill="#f23645"/><rect x="754" y="316" width="1" height="3" fill="#f23645"/><rect x="752" y="304" width="5" height="12" fill="#f23645"/><rect x="761" y="317" width="1" height="4" fill="#f23645"/><rect x="759" y="315" width="5" height="2" fill="#f23645"/><rect x="768" y="318" width="1" height="5" fill="#f23645"/><rect x="766" y="316" width="5" height="2" fill="#f23645"/><rect x="775" y="314" width="1" height="4" fill="#f23645"/><rect x="773" y="318" width="5" height="1" fill="#f23645"/><rect x="782" y="309" width="1" height="1" fill="#089981"/><rect x="780" y="310" width="5" height="8" fill="#089981"/><rect x="789" y="307" width="2" height="3" fill="#f23645" fill-opacity="0.4"/><rect x="796" y="320" width="1" height="2" fill="#089981"/><rect x="796" y="324" width="1" height="5" fill="#089981"/><rect x="794" y="322" width="5" height="2" fill="#089981"/><rect x="803" y="327" width="2" height="1" fill="#f23645" fill-opacity="0.4"/><rect x="811" y="324" width="1" height="2" fill="#f23645"/><rect x="809" y="326" width="5" height="3" fill="#f23645"/><rect x="817" y="329" width="2" height="2" fill="#089981" fill-opacity="0.4"/><rect x="825" y="323" width="1" height="2" fill="#089981"/><rect x="825" y="326" width="1" height="4" fill="#089981"/><rect x="823" y="325" width="5" height="1" fill="#089981"/><rect x="830" y="315" width="5" height="10" fill="#089981"/><rect x="839" y="310" width="1" height="2" fill="#089981"/><rect x="839" y="316" width="1" height="6" fill="#089981"/><rect x="837" y="312" width="5" height="4" fill="#089981"/><rect x="846" y="312" width="1" height="2" fill="#089981"/><rect x="844" y="310" width="5" height="2" fill="#089981"/><rect x="853" y="303" width="1" height="3" fill="#089981"/><rect x="853" y="310" width="1" height="2" fill="#089981"/><rect x="851" y="306" width="5" height="4" fill="#089981"/><rect x="858" y="306" width="5" height="6" fill="#f23645"/><rect x="865" y="306" width="5" height="6" fill="#089981"/><rect x="874" y="310" width="1" height="1" fill="#f23645"/><rect x="872" y="307" width="5" height="3" fill="#f23645"/><rect x="881" y="304" width="2" height="5" fill="#f23645" fill-opacity="0.4"/><rect x="881" y="313" width="2" height="3" fill="#f23645" fill-opacity="0.4"/><rect x="889" y="331" width="1" height="4" fill="#f23645"/><rect x="887" y="312" width="5" height="19" fill="#f23645"/><rect x="895" y="326" width="2" height="4" fill="#f23645" fill-opacity="0.4"/><rect x="895" y="331" width="2" height="16" fill="#f23645" fill-opacity="0.4"/><rect x="903" y="324" width="1" height="7" fill="#f23645"/><rect x="903" y="334" width="1" height="4" fill="#f23645"/><rect x="901" y="331" width="5" height="3" fill="#f23645"/><rect x="909" y="348" width="2" height="4" fill="#f23645" fill-opacity="0.4"/><rect x="917" y="344" width="1" height="2" fill="#089981"/><rect x="917" y="348" width="1" height="5" fill="#089981"/><rect x="915" y="346" width="5" height="2" fill="#089981"/><rect x="924" y="344" width="1" height="2" fill="#f23645"/><rect x="924" y="353" width="1" height="4" fill="#f23645"/><rect x="922" y="346" width="5" height="7" fill="#f23645"/><rect x="931" y="338" width="1" height="3" fill="#089981"/><rect x="931" y="353" width="1" height="5" fill="#089981"/><rect x="929" y="341" width="5" height="12" fill="#089981"/><rect x="938" y="334" width="1" height="2" fill="#089981"/><rect x="938" y="342" width="1" height="6" fill="#089981"/><rect x="936" y="336" width="5" height="6" fill="#089981"/><rect x="943" y="298" width="5" height="38" fill="#089981"/><rect x="952" y="287" width="1" height="7" fill="#089981"/><rect x="950" y="294" width="5" height="4" fill="#089981"/><rect x="959" y="284" width="2" height="10" fill="#f23645" fill-opacity="0.4"/><rect x="966" y="322" width="1" height="10" fill="#f23645"/><rect x="964" y="295" width="5" height="27" fill="#f23645"/><rect x="973" y="314" width="2" height="2" fill="#089981" fill-opacity="0.4"/><rect x="981" y="305" width="1" height="2" fill="#089981"/><rect x="981" y="316" width="1" height="3" fill="#089981"/><rect x="979" y="307" width="5" height="9" fill="#089981"/><rect x="987" y="296" width="2" height="11" fill="#f23645" fill-opacity="0.4"/><rect x="987" y="310" width="2" height="2" fill="#f23645" fill-opacity="0.4"/><rect x="995" y="300" width="1" height="6" fill="#089981"/><rect x="995" y="310" width="1" height="4" fill="#089981"/><rect x="993" y="306" width="5" height="4" fill="#089981"/><rect x="1002" y="300" width="1" height="6" fill="#f23645"/><rect x="1002" y="316" width="1" height="6" fill="#f23645"/><rect x="1000" y="306" width="5" height="10" fill="#f23645"/><rect x="1009" y="307" width="1" height="9" fill="#f23645"/><rect x="1009" y="317" width="1" height="2" fill="#f23645"/><rect x="1007" y="316" width="5" height="1" fill="#f9b3b9"/><rect x="1016" y="316" width="1" height="10" fill="#089981"/><rect x="1014" y="312" width="5" height="4" fill="#089981"/><rect x="1021" y="303" width="5" height="9" fill="#089981"/><rect x="1030" y="300" width="1" height="3" fill="#f23645"/><rect x="1030" y="304" width="1" height="1" fill="#f23645"/><rect x="1028" y="303" width="5" height="1" fill="#f23645"/><rect x="1037" y="314" width="2" height="16" fill="#f23645" fill-opacity="0.4"/><rect x="1044" y="343" width="1" height="8" fill="#f23645"/><rect x="1042" y="313" width="5" height="30" fill="#f23645"/><rect x="1051" y="342" width="2" height="6" fill="#089981" fill-opacity="0.4"/><rect x="1059" y="298" width="1" height="5" fill="#089981"/><rect x="1057" y="303" width="5" height="23" fill="#089981"/><rect x="1065" y="301" width="2" height="2" fill="#f23645" fill-opacity="0.4"/><rect x="1065" y="309" width="2" height="4" fill="#f23645" fill-opacity="0.4"/><rect x="1073" y="293" width="1" height="8" fill="#089981"/><rect x="1071" y="301" width="5" height="8" fill="#089981"/><rect x="1080" y="302" width="1" height="3" fill="#089981"/><rect x="1078" y="276" width="5" height="26" fill="#089981"/><rect x="1087" y="265" width="1" height="9" fill="#089981"/><rect x="1087" y="276" width="1" height="4" fill="#089981"/><rect x="1085" y="274" width="5" height="2" fill="#089981"/><rect x="1094" y="272" width="1" height="2" fill="#f23645"/><rect x="1094" y="275" width="1" height="3" fill="#f23645"/><rect x="1092" y="274" width="5" height="1" fill="#f9b3b9"/><rect x="1101" y="276" width="1" height="5" fill="#f23645"/><rect x="1099" y="274" width="5" height="2" fill="#f23645"/><rect x="1108" y="266" width="1" height="6" fill="#089981"/><rect x="1106" y="272" width="5" height="5" fill="#089981"/><rect x="1115" y="276" width="2" height="6" fill="#f23645" fill-opacity="0.4"/><rect x="1122" y="263" width="1" height="9" fill="#089981"/><rect x="1122" y="276" width="1" height="4" fill="#089981"/><rect x="1120" y="272" width="5" height="4" fill="#089981"/><rect x="1129" y="263" width="2" height="7" fill="#089981" fill-opacity="0.4"/><rect x="1129" y="272" width="2" height="3" fill="#089981" fill-opacity="0.4"/><rect x="1137" y="276" width="1" height="2" fill="#f23645"/><rect x="1135" y="270" width="5" height="6" fill="#f23645"/><rect x="1143" y="290" width="2" height="4" fill="#f23645" fill-opacity="0.4"/><rect x="1151" y="287" width="1" height="3" fill="#f23645"/><rect x="1151" y="316" width="1" height="10" fill="#f23645"/><rect x="1149" y="290" width="5" height="26" fill="#f23645"/><rect x="1157" y="247" width="2" height="4" fill="#089981" fill-opacity="0.4"/><rect x="1165" y="234" width="1" height="11" fill="#089981"/><rect x="1165" y="252" width="1" height="9" fill="#089981"/><rect x="1163" y="245" width="5" height="7" fill="#089981"/><rect x="1172" y="240" width="1" height="5" fill="#f23645"/><rect x="1172" y="260" width="1" height="5" fill="#f23645"/><rect x="1170" y="245" width="5" height="15" fill="#f23645"/><rect x="1179" y="252" width="1" height="8" fill="#f23645"/><rect x="1179" y="262" width="1" height="8" fill="#f23645"/><rect x="1177" y="260" width="5" height="2" fill="#f23645"/><rect x="1186" y="254" width="1" height="3" fill="#089981"/><rect x="1186" y="262" width="1" height="3" fill="#089981"/><rect x="1184" y="257" width="5" height="5" fill="#089981"/><rect x="1193" y="265" width="2" height="12" fill="#f23645" fill-opacity="0.4"/><rect x="1200" y="259" width="1" height="2" fill="#089981"/><rect x="1200" y="265" width="1" height="5" fill="#089981"/><rect x="1198" y="261" width="5" height="4" fill="#089981"/><rect x="1207" y="261" width="2" height="1" fill="#089981" fill-opacity="0.4"/><rect x="1214" y="240" width="1" height="3" fill="#f23645"/><rect x="1212" y="243" width="5" height="9" fill="#f23645"/><rect x="1221" y="252" width="2" height="6" fill="#089981" fill-opacity="0.4"/><rect x="1229" y="249" width="1" height="6" fill="#f23645"/><rect x="1227" y="248" width="5" height="1" fill="#f23645"/><rect x="1235" y="234" width="2" height="12" fill="#089981" fill-opacity="0.4"/><rect x="1243" y="244" width="1" height="2" fill="#f23645"/><rect x="1243" y="250" width="1" height="8" fill="#f23645"/><rect x="1241" y="246" width="5" height="4" fill="#f23645"/><rect x="1250" y="242" width="1" height="3" fill="#089981"/><rect x="1250" y="250" width="1" height="5" fill="#089981"/><rect x="1248" y="245" width="5" height="5" fill="#089981"/><rect x="1257" y="254" width="1" height="4" fill="#f23645"/><rect x="1255" y="245" width="5" height="9" fill="#f23645"/><rect x="1264" y="250" width="1" height="4" fill="#f23645"/><rect x="1264" y="255" width="1" height="4" fill="#f23645"/><rect x="1262" y="254" width="5" height="1" fill="#f23645"/><rect x="1269" y="255" width="5" height="9" fill="#f23645"/><rect x="1278" y="259" width="1" height="4" fill="#089981"/><rect x="1278" y="264" width="1" height="3" fill="#089981"/><rect x="1276" y="263" width="5" height="1" fill="#089981"/><rect x="1285" y="263" width="2" height="5" fill="#089981" fill-opacity="0.4"/><rect x="1292" y="248" width="1" height="5" fill="#f23645"/><rect x="1290" y="253" width="5" height="2" fill="#f23645"/></g>
<g><rect x="57.7" y="247" width="4.6" height="5" fill="#f23645"/><rect x="71.7" y="239" width="4.6" height="5" fill="#089981"/><rect x="135.7" y="242" width="4.6" height="5" fill="#089981"/><rect x="149.7" y="228" width="4.6" height="5" fill="#089981"/><rect x="163.7" y="218" width="4.6" height="7" fill="#089981"/><rect x="213.7" y="246" width="4.6" height="2" fill="#089981"/><rect x="227.7" y="237" width="4.6" height="5" fill="#f23645"/><rect x="241.7" y="201" width="4.6" height="27" fill="#089981"/><rect x="305.7" y="194" width="4.6" height="11" fill="#f23645"/><rect x="319.7" y="196" width="4.6" height="14" fill="#f23645"/><rect x="333.7" y="217" width="4.6" height="2" fill="#089981"/><rect x="369.7" y="219" width="4.6" height="9" fill="#089981"/><rect x="383.7" y="212" width="4.6" height="10" fill="#f23645"/><rect x="397.7" y="242" width="4.6" height="2" fill="#f23645"/><rect x="411.7" y="236" width="4.6" height="6" fill="#f23645"/><rect x="461.7" y="280" width="4.6" height="2" fill="#089981"/><rect x="475.7" y="262" width="4.6" height="46" fill="#f23645"/><rect x="489.7" y="326" width="4.6" height="6" fill="#089981"/><rect x="539.7" y="325" width="4.6" height="3" fill="#f23645"/><rect x="553.7" y="327" width="4.6" height="3" fill="#f23645"/><rect x="567.7" y="343" width="4.6" height="10" fill="#089981"/><rect x="581.7" y="325" width="4.6" height="1" fill="#f23645"/><rect x="617.7" y="322" width="4.6" height="2" fill="#f23645"/><rect x="645.7" y="320" width="4.6" height="3" fill="#f23645"/><rect x="659.7" y="313" width="4.6" height="7" fill="#089981"/><rect x="787.7" y="310" width="4.6" height="14" fill="#f23645"/><rect x="801.7" y="322" width="4.6" height="5" fill="#f23645"/><rect x="815.7" y="326" width="4.6" height="3" fill="#089981"/><rect x="879.7" y="309" width="4.6" height="4" fill="#f23645"/><rect x="893.7" y="330" width="4.6" height="1" fill="#f9b3b9"/><rect x="907.7" y="333" width="4.6" height="15" fill="#f23645"/><rect x="957.7" y="294" width="4.6" height="2" fill="#f23645"/><rect x="971.7" y="316" width="4.6" height="6" fill="#089981"/><rect x="985.7" y="307" width="4.6" height="3" fill="#f23645"/><rect x="1035.7" y="304" width="4.6" height="10" fill="#f23645"/><rect x="1049.7" y="325" width="4.6" height="17" fill="#089981"/><rect x="1063.7" y="303" width="4.6" height="6" fill="#f23645"/><rect x="1113.7" y="272" width="4.6" height="4" fill="#f23645"/><rect x="1127.7" y="270" width="4.6" height="2" fill="#089981"/><rect x="1141.7" y="276" width="4.6" height="14" fill="#f23645"/><rect x="1155.7" y="251" width="4.6" height="65" fill="#089981"/><rect x="1191.7" y="257" width="4.6" height="8" fill="#f23645"/><rect x="1205.7" y="243" width="4.6" height="18" fill="#089981"/><rect x="1219.7" y="248" width="4.6" height="4" fill="#089981"/><rect x="1233.7" y="246" width="4.6" height="3" fill="#089981"/><rect x="1283.7" y="253" width="4.6" height="10" fill="#089981"/></g>
<rect x="1367" y="249" width="45" height="11.3" rx="1" fill="#f23645"/>
<text x="1373.1" y="257.9" font-size="8.7" fill="#fff" textLength="35.5" lengthAdjust="spacingAndGlyphs">111022.68</text>
<text x="22.4" y="180.7" font-size="9.65" fill="#131722" textLength="125.3" lengthAdjust="spacingAndGlyphs">BTC/USDT・1小时・528BTC</text>
<text x="153.3" y="180.6" font-size="8.4" fill="#131722">开=</text>
<text x="168.0" y="180.6" font-size="8.4" fill="#f23645" textLength="38.6" lengthAdjust="spacingAndGlyphs">111099.87</text>
<text x="211.4" y="180.6" font-size="8.4" fill="#131722">高=</text>
<text x="225.5" y="180.6" font-size="8.4" fill="#f23645" textLength="38.6" lengthAdjust="spacingAndGlyphs">111279.48</text>
<text x="268.5" y="180.6" font-size="8.4" fill="#131722">低=</text>
<text x="282.6" y="180.6" font-size="8.4" fill="#f23645" textLength="38.6" lengthAdjust="spacingAndGlyphs">111009.95</text>
<text x="326.2" y="180.6" font-size="8.4" fill="#131722">收=</text>
<text x="339.7" y="180.6" font-size="8.4" fill="#f23645" textLength="38.6" lengthAdjust="spacingAndGlyphs">111022.68</text>
<text x="383.7" y="180.6" font-size="8.4" fill="#f23645" textLength="60.6" lengthAdjust="spacingAndGlyphs">−77.20 (−0.07%)</text>
<text x="22.2" y="391.3" font-size="8.4" fill="#131722" textLength="59.8" lengthAdjust="spacingAndGlyphs">成交量(Volume)</text>
<text x="87.1" y="391.3" font-size="8.4" fill="#f23645" textLength="32" lengthAdjust="spacingAndGlyphs">36.057M</text>
<text x="74.4" y="493.3" font-size="8.5" fill="#131722" text-anchor="middle" textLength="19.6" lengthAdjust="spacingAndGlyphs">12:00</text>
<text x="159.4" y="493.3" font-size="8.5" fill="#131722" text-anchor="middle">28</text>
<text x="244.4" y="493.3" font-size="8.5" fill="#131722" text-anchor="middle" textLength="19.6" lengthAdjust="spacingAndGlyphs">12:00</text>
<text x="329.5" y="493.3" font-size="8.5" fill="#131722" text-anchor="middle">29</text>
<text x="414.5" y="493.3" font-size="8.5" fill="#131722" text-anchor="middle" textLength="19.6" lengthAdjust="spacingAndGlyphs">12:00</text>
<text x="499.5" y="493.3" font-size="8.5" fill="#131722" text-anchor="middle">30</text>
<text x="584.5" y="493.3" font-size="8.5" fill="#131722" text-anchor="middle" textLength="19.6" lengthAdjust="spacingAndGlyphs">12:00</text>
<text x="669.5" y="493.3" font-size="8.5" fill="#131722" text-anchor="middle">31</text>
<text x="754.6" y="493.3" font-size="8.5" fill="#131722" text-anchor="middle" textLength="19.6" lengthAdjust="spacingAndGlyphs">12:00</text>
<text x="839.6" y="493.3" font-size="8.5" fill="#131722" text-anchor="middle">9月</text>
<text x="924.6" y="493.3" font-size="8.5" fill="#131722" text-anchor="middle" textLength="19.6" lengthAdjust="spacingAndGlyphs">12:00</text>
<text x="1009.6" y="493.3" font-size="8.5" fill="#131722" text-anchor="middle">2</text>
<text x="1094.6" y="493.3" font-size="8.5" fill="#131722" text-anchor="middle" textLength="19.6" lengthAdjust="spacingAndGlyphs">12:00</text>
<text x="1179.7" y="493.3" font-size="8.5" fill="#131722" text-anchor="middle">3</text>
<text x="1264.7" y="493.3" font-size="8.5" fill="#131722" text-anchor="middle" textLength="19.6" lengthAdjust="spacingAndGlyphs">12:00</text>
<text x="1349.7" y="493.3" font-size="8.5" fill="#131722" text-anchor="middle">4</text>
<polygon points="1395.70,490.50 1393.40,494.48 1388.80,494.48 1386.50,490.50 1388.80,486.52 1393.40,486.52" fill="none" stroke="#131722" stroke-width="0.9"/><circle cx="1391.1" cy="490.5" r="1.3" fill="none" stroke="#131722" stroke-width="0.9"/>
<rect x="9" y="443.1" width="5.8" height="17.6" rx="2.8" fill="#2e5fff"/>
<path d="M11.3 449.8 L12.8 452.2 L11.3 454.6" fill="none" stroke="#dfe6ff" stroke-width="0.8"/>
<circle cx="34" cy="461.5" r="10.9" fill="#fff" stroke="#e6e8ec" stroke-width="0.7"/>
<path d="M27.1 458.2 H33.2 V465.2 H30.4 V460.9 H27.1 Z" fill="#131722"/><circle cx="35.4" cy="459.6" r="1.3" fill="#131722"/><path d="M37.8 458.2 H41 L37.6 465.2 H34.5 Z" fill="#131722"/>
<rect x="1367" y="470.4" width="38.5" height="10.5" fill="#f23645"/>
<text x="1372.6" y="478.9" font-size="8.1" fill="#fff" textLength="29.6" lengthAdjust="spacingAndGlyphs">36.057M</text>
<g opacity="0.62">
<circle cx="1325.5" cy="475.4" r="13.3" fill="none" stroke="#c4c4c4" stroke-width="4.2"/>
<g fill="none" stroke="#b5b5b5" stroke-width="1.9"><path d="M1321.2 471 H1328.2 Q1331 471 1331 473.6 Q1331 475.8 1328.2 475.8 H1321.2 M1328.2 475.8 Q1332.4 475.8 1332.4 478.6 Q1332.4 481.2 1328.6 481.2 H1321.2 M1322.3 471 V481.2"/><path d="M1324 467.8 V471 M1327.6 467.8 V471 M1324 481.2 V483.2 M1327.6 481.2 V483.2 M1318.5 475.8 H1322.3"/></g>
<text x="1345" y="481.9" font-size="20.5" font-weight="700" fill="#a9a9a9" textLength="66.3" lengthAdjust="spacingAndGlyphs" transform="translate(1345 481.9) scale(1 0.84) translate(-1345 -481.9)" font-family="'Noto Sans CJK SC', sans-serif">币界网</text>
</g>
</svg>
</body></html>
